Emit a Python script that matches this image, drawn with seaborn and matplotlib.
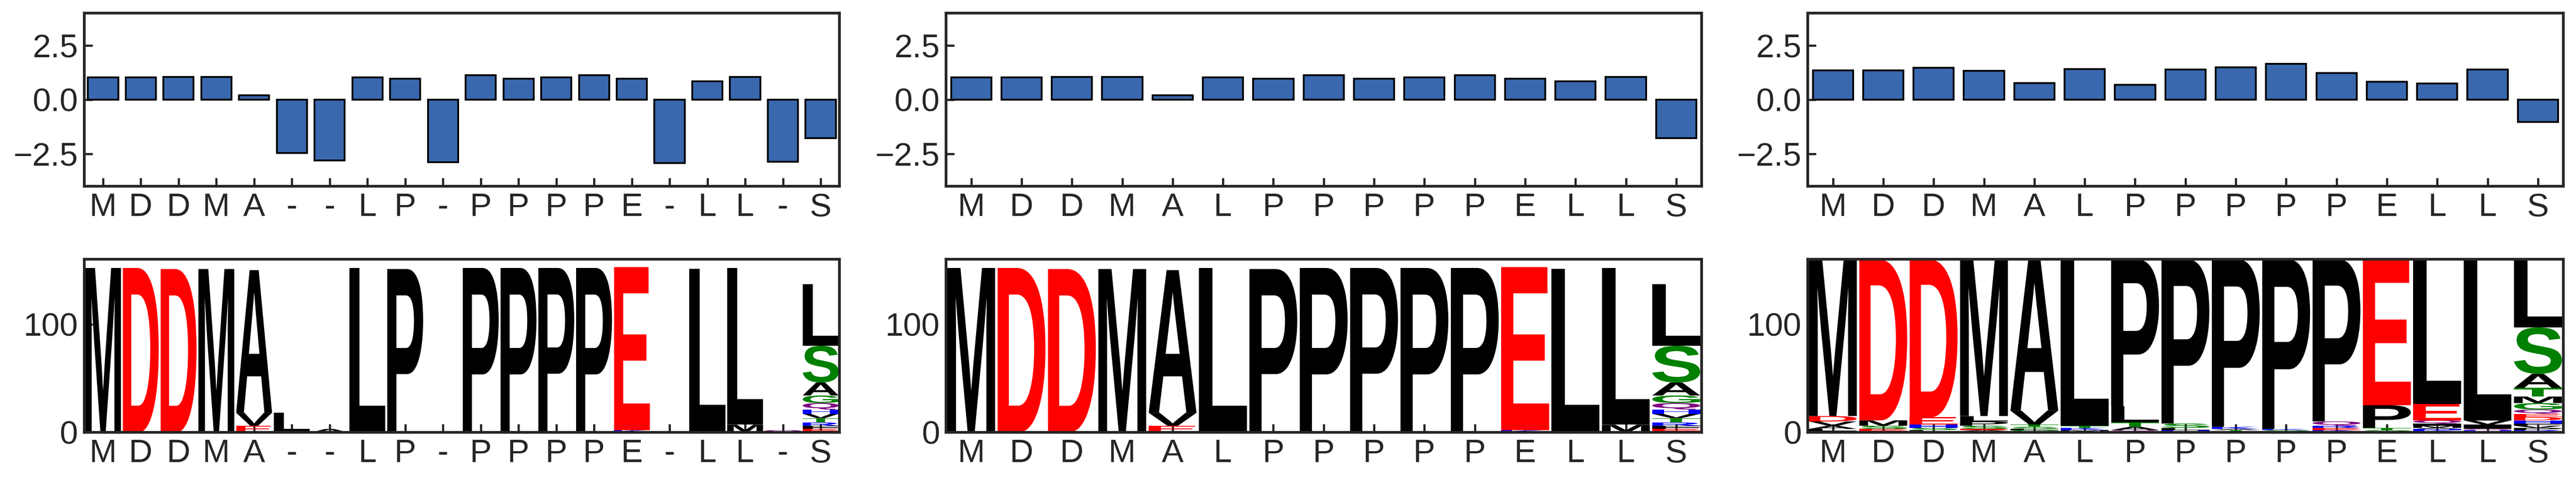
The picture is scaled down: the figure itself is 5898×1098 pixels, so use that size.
import numpy as np
import matplotlib
matplotlib.use("Agg")
import matplotlib.pyplot as plt
import seaborn as sns
from matplotlib.textpath import TextPath
from matplotlib.font_manager import FontProperties
from matplotlib.patches import PathPatch
from matplotlib.transforms import Affine2D

# --- data ------------------------------------------------------------------
labels_gapped = list("MDDMA--LP-PPPPE-LL-S")
labels_ungapped = list("MDDMALPPPPPELLS")
labels_alt = list("MDDMALPPPPPELLS")

scores_gapped = [1.03, 1.03, 1.05, 1.05, 0.19, -2.47, -2.82, 1.03, 0.97, -2.90,
                 1.12, 0.97, 1.03, 1.12, 0.97, -2.93, 0.85, 1.05, -2.88, -1.79]
scores_ungapped = [1.03, 1.03, 1.05, 1.05, 0.19, 1.03, 0.97, 1.12, 0.97, 1.03,
                   1.12, 0.97, 0.85, 1.05, -1.79]
scores_alt = [1.34, 1.34, 1.46, 1.32, 0.77, 1.40, 0.69, 1.38, 1.48, 1.64,
              1.22, 0.83, 0.75, 1.38, -1.04]

# residue counts per column
logo_gapped = [
    {"M": 152},
    {"D": 152},
    {"D": 151},
    {"M": 151},
    {"A": 132, "V": 12, "E": 6},
    {"L": 18},
    {"A": 3},
    {"L": 152},
    {"P": 150, "A": 1},
    {"L": 1},
    {"P": 152},
    {"P": 152},
    {"P": 151, "L": 1},
    {"P": 152},
    {"E": 151, "K": 2},
    {},
    {"L": 150, "M": 1},
    {"L": 145, "M": 7},
    {"Q": 2},
    {"L": 57, "S": 34, "A": 12, "G": 7, "Q": 6, "T": 4, "F": 3, "V": 4,
     "H": 4, "R": 3, "E": 2, "K": 1},
]
logo_ungapped = [
    {"M": 152},
    {"D": 152},
    {"D": 151},
    {"M": 151},
    {"A": 132, "V": 12, "E": 6},
    {"L": 152},
    {"P": 150, "A": 1},
    {"P": 152},
    {"P": 151, "L": 1},
    {"P": 152},
    {"P": 152},
    {"E": 151, "K": 2},
    {"L": 150, "M": 1},
    {"L": 145, "M": 7},
    {"L": 57, "S": 34, "A": 12, "G": 7, "Q": 6, "T": 4, "F": 3, "V": 4,
     "H": 4, "R": 3, "E": 2, "K": 1},
]
logo_alt = [
    {"M": 145, "D": 5, "A": 3, "V": 4, "L": 2, "S": 1},
    {"D": 149, "M": 5, "S": 3, "E": 2, "F": 1},
    {"D": 146, "E": 7, "H": 3, "S": 2, "N": 1, "L": 1},
    {"M": 145, "L": 5, "P": 4, "S": 3, "T": 1, "A": 1, "E": 1},
    {"A": 140, "V": 13, "S": 2, "T": 2, "E": 1, "G": 1, "L": 1},
    {"L": 154, "K": 2, "T": 2, "A": 1, "M": 1},
    {"P": 136, "L": 15, "T": 4, "A": 3, "H": 1, "Q": 1},
    {"P": 152, "S": 4, "L": 2, "Q": 1, "H": 1},
    {"P": 155, "K": 2, "L": 1, "T": 1, "A": 1},
    {"P": 157, "T": 1, "S": 1, "K": 1},
    {"P": 150, "Q": 4, "E": 2, "R": 2, "H": 1, "K": 1},
    {"E": 135, "P": 21, "T": 2, "L": 1, "S": 1},
    {"L": 134, "E": 15, "Q": 3, "M": 2, "I": 2, "R": 1, "K": 1, "H": 1, "A": 1},
    {"L": 149, "I": 4, "V": 4, "R": 1, "H": 1, "Q": 1},
    {"L": 63, "S": 43, "A": 13, "T": 8, "G": 6, "H": 3, "M": 6, "D": 3,
     "P": 2, "Q": 4, "E": 3, "V": 2, "F": 2, "K": 1, "R": 1},
]

# logomaker-like "chemistry" colouring
chemistry = {}
for aa in "GSTYC":
    chemistry[aa] = "green"
for aa in "QN":
    chemistry[aa] = "purple"
for aa in "KRH":
    chemistry[aa] = "blue"
for aa in "DE":
    chemistry[aa] = "red"
for aa in "AVLIPWFM":
    chemistry[aa] = "black"

BAR_COLOR = "#3a68ae"
LOGO_FONT = FontProperties(family="Liberation Sans", weight="bold")

sns.set_style("ticks")
plt.rcParams["font.family"] = ["Liberation Sans", "DejaVu Sans"]


def style_axes(ax):
    for sp in ax.spines.values():
        sp.set_visible(True)
        sp.set_linewidth(1.5)
    ax.tick_params(direction="in", length=4.5, width=1.2, labelsize=18, pad=3.5,
                   top=False, right=False)


def draw_glyph(ax, ch, x, y0, h, color, width=0.95):
    tp = TextPath((0, 0), ch, size=1, prop=LOGO_FONT)
    ext = tp.get_extents()
    tr = (Affine2D().translate(-ext.x0, -ext.y0)
          .scale(width / ext.width, h / ext.height)
          .translate(x - width / 2, y0))
    ax.add_patch(PathPatch(tr.transform_path(tp), facecolor=color,
                           edgecolor="none", lw=0, zorder=1))


def draw_logo(ax, columns, labels, ymax):
    for i, col in enumerate(columns):
        base = 0.0
        # small letters at the bottom, biggest on top
        for aa, n in sorted(col.items(), key=lambda kv: kv[1]):
            draw_glyph(ax, aa, i, base, n, chemistry.get(aa, "gray"))
            base += n
    ax.set_xlim(-0.5, len(columns) - 0.5)
    ax.set_ylim(0, ymax)
    ax.set_yticks([0, 100])
    ax.set_xticks(np.arange(len(labels)))
    ax.set_xticklabels(labels)
    style_axes(ax)


def draw_bars(ax, scores, labels):
    sns.barplot(x=np.arange(len(scores)), y=scores, ax=ax, color=BAR_COLOR,
                saturation=1, edgecolor="black", linewidth=1.0, width=0.8)
    ax.set_xlim(-0.5, len(scores) - 0.5)
    ax.set_ylim(-4, 4)
    ax.set_yticks([-2.5, 0, 2.5])
    ax.set_xticks(np.arange(len(labels)))
    ax.set_xticklabels(labels)
    ax.set_xlabel("")
    ax.set_ylabel("")
    style_axes(ax)


fig = plt.figure(figsize=(5898 / 300, 1098 / 300), dpi=300)
lefts = [0.03267, 0.36724, 0.70176]
width = 0.29324
panels = [
    (scores_gapped, logo_gapped, labels_gapped),
    (scores_ungapped, logo_ungapped, labels_ungapped),
    (scores_alt, logo_alt, labels_alt),
]
ymax = max(sum(c.values()) for _, logo, _ in panels for c in logo)

for left, (scores, logo, labels) in zip(lefts, panels):
    ax_top = fig.add_axes([left, 0.61221, width, 0.36084])
    draw_bars(ax_top, scores, labels)
    ax_bot = fig.add_axes([left, 0.09954, width, 0.3602])
    draw_logo(ax_bot, logo, labels, ymax)

fig.savefig("out.png", dpi=300)
plt.close(fig)
